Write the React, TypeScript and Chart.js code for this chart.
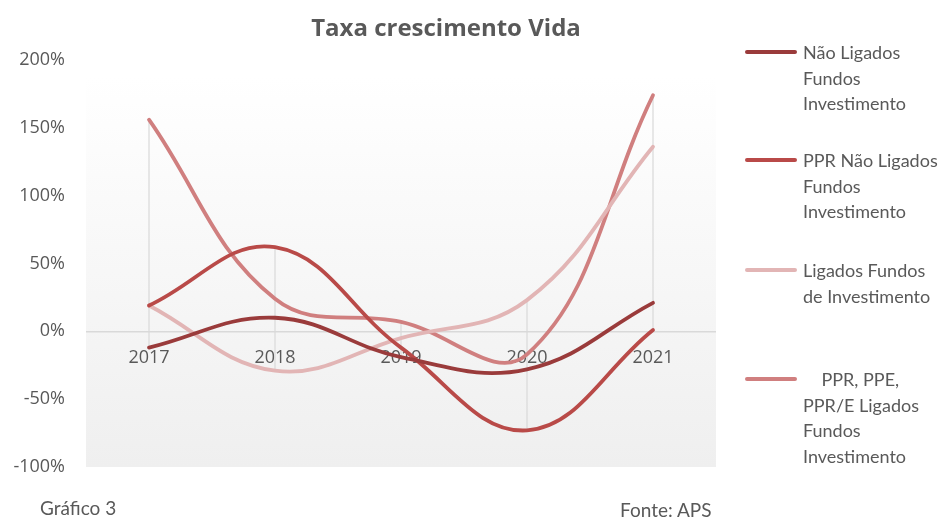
import React, { useEffect, useRef } from "react";
import { Chart, registerables } from "chart.js";

Chart.register(...registerables);

const categories = ["2017", "2018", "2019", "2020", "2021"];
const naoLigados = [-12, 10, -19, -28, 21];
const pprNaoLigados = [19, 62, -12, -73, 1];
const ligados = [19, -29, -5, 23, 136];
const pprPpeLigados = [156, 24, 7, -17, 174];
const yTicks = [-100, -50, 0, 50, 100, 150, 200];

const seriesNames = [
  "Não Ligados Fundos Investimento",
  "PPR Não Ligados Fundos Investimento",
  "Ligados Fundos de Investimento",
  "PPR, PPE, PPR/E Ligados Fundos Investimento",
];
const colors = ["#9a3b3b", "#b94a48", "#e2b5b5", "#d07f7f"];

const FONT = "Lato, 'Open Sans', sans-serif";
const TICKFONT = "'Open Sans', sans-serif";
const TEXT = "#595959";

const bgPlugin = {
  id: "bgGradient",
  beforeDraw(chart: any) {
    const { ctx, chartArea } = chart;
    if (!chartArea) return;
    const top = chartArea.top + 16;
    const g = ctx.createLinearGradient(0, top, 0, chartArea.bottom);
    g.addColorStop(0, "#ffffff");
    g.addColorStop(1, "#efefef");
    ctx.save();
    ctx.fillStyle = g;
    ctx.fillRect(chartArea.left, top, chartArea.right - chartArea.left, chartArea.bottom - top);
    ctx.restore();
  },
};

const hiLoPlugin = {
  id: "hiLo",
  beforeDatasetsDraw(chart: any) {
    const { ctx, scales } = chart;
    const x = scales.x;
    const y = scales.y;
    ctx.save();
    ctx.strokeStyle = "#d9d9d9";
    ctx.lineWidth = 1.2;
    categories.forEach((_, i) => {
      const vals = chart.data.datasets.map((d: any) => d.data[i]);
      const hi = Math.max(...vals);
      const lo = Math.min(...vals);
      const px = x.getPixelForValue(i);
      ctx.beginPath();
      ctx.moveTo(px, y.getPixelForValue(hi));
      ctx.lineTo(px, y.getPixelForValue(lo));
      ctx.stroke();
    });
    ctx.restore();
  },
};

export default function App() {
  const ref = useRef<HTMLCanvasElement>(null);

  useEffect(() => {
    if (!ref.current) return;
    const allSeries = [naoLigados, pprNaoLigados, ligados, pprPpeLigados];
    const chart = new Chart(ref.current, {
      type: "line",
      data: {
        labels: categories,
        datasets: allSeries.map((d, i) => ({
          label: seriesNames[i],
          data: d,
          borderColor: colors[i],
          backgroundColor: colors[i],
          borderWidth: 3.8,
          pointRadius: 0,
          tension: 0.4,
          fill: false,
          borderCapStyle: "round",
        })),
      },
      options: {
        animation: false,
        responsive: false,
        maintainAspectRatio: false,
        layout: { padding: { top: 60, bottom: 51, left: 0, right: 230 } },
        plugins: {
          legend: { display: false },
          title: { display: false },
          tooltip: { enabled: false },
        },
        scales: {
          x: {
            type: "category",
            offset: true,
            position: { y: 0 },
            grid: { display: false },
            border: { display: false },
            ticks: { color: TEXT, font: { family: TICKFONT, size: 18 }, padding: 8 },
          },
          y: {
            min: -100,
            max: 200,
            afterFit(scale: any) {
              scale.width = 86;
            },
            afterBuildTicks(scale: any) {
              scale.ticks = yTicks.map((v) => ({ value: v }));
            },
            grid: {
              drawTicks: false,
              color: (c: any) => (c.tick && c.tick.value === 0 ? "#d9d9d9" : "rgba(0,0,0,0)"),
              lineWidth: 1.5,
            },
            border: { display: false },
            ticks: {
              color: TEXT,
              font: { family: TICKFONT, size: 18 },
              padding: 21,
              callback: (v: any) => `${v}%`,
            },
          },
        },
      },
      plugins: [bgPlugin, hiLoPlugin],
    });
    return () => chart.destroy();
  }, []);

  const legendTops = [40, 148, 258, 367];
  const legendLines = [
    ["Não Ligados", "Fundos", "Investimento"],
    ["PPR Não Ligados", "Fundos", "Investimento"],
    ["Ligados Fundos", "de Investimento"],
    ["\u00a0\u00a0\u00a0\u00a0PPR, PPE,", "PPR/E Ligados", "Fundos", "Investimento"],
  ];

  return (
    <div style={{ position: "fixed", left: 0, top: 0, width: 946, height: 518, background: "#fff", fontFamily: FONT, color: TEXT }}>
      <canvas ref={ref} width={946} height={518} style={{ position: "absolute", left: 0, top: 0 }} />
      <div style={{ position: "absolute", left: 0, width: 892, top: 10, textAlign: "center", fontSize: 24, fontWeight: 700, color: TEXT, fontFamily: TICKFONT }}>
        Taxa crescimento Vida
      </div>
      {legendLines.map((lines, i) => (
        <div key={i} style={{ position: "absolute", left: 745, top: legendTops[i] }}>
          <div style={{ position: "absolute", left: 0, top: 10, width: 52, height: 4, borderRadius: 2, background: colors[i] }} />
          <div style={{ position: "absolute", left: 58, top: 0, fontSize: 18, lineHeight: "25.5px", whiteSpace: "nowrap" }}>
            {lines.map((l, j) => (
              <div key={j}>{l}</div>
            ))}
          </div>
        </div>
      ))}
      <div style={{ position: "absolute", left: 40, top: 496, fontSize: 19 }}>Gráfico 3</div>
      <div style={{ position: "absolute", left: 620, top: 498, fontSize: 19 }}>Fonte: APS</div>
    </div>
  );
}
